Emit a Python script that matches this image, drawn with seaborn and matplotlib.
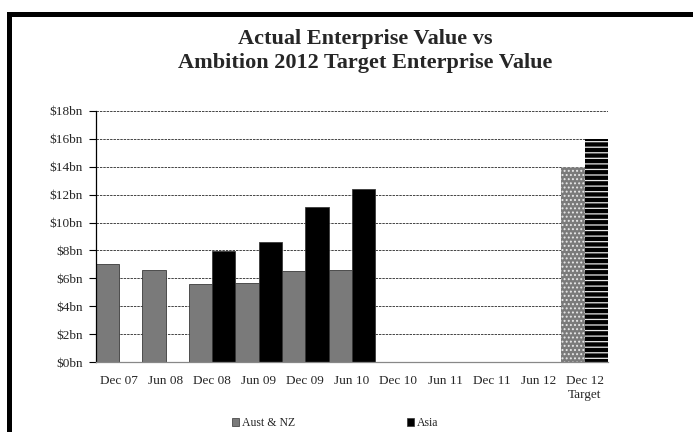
import numpy as np
import pandas as pd
import matplotlib
matplotlib.use("Agg")
import matplotlib.pyplot as plt
import seaborn as sns
from matplotlib.lines import Line2D
from matplotlib.patches import Patch

# ---- data ----
categories = ["Dec 07", "Jun 08", "Dec 08", "Jun 09", "Dec 09", "Jun 10",
              "Dec 10", "Jun 11", "Dec 11", "Jun 12", "Dec 12\nTarget"]
aust_nz = [7.03, 6.63, 5.62, 5.69, 6.51, 6.63, np.nan, np.nan, np.nan, np.nan, 14.0]
asia = [np.nan, np.nan, 7.99, 8.61, 11.12, 12.39, np.nan, np.nan, np.nan, np.nan, 16.0]
series = ["Aust & NZ", "Asia"]
colors = ["#7a7a7a", "#000000"]
target_category = "Dec 12\nTarget"
y_ticks = list(range(0, 19, 2))
y_labels = [f"${v}bn" for v in y_ticks]
title = "Actual Enterprise Value vs\nAmbition 2012 Target Enterprise Value"

rows = []
for cat, a, b in zip(categories, aust_nz, asia):
    rows.append({"period": cat, "series": series[0], "value": a})
    rows.append({"period": cat, "series": series[1], "value": b})
df = pd.DataFrame(rows).dropna()

sns.set_style("white")
plt.rcParams["font.family"] = ["Liberation Serif", "DejaVu Serif"]
plt.rcParams["hatch.linewidth"] = 0.9

fig = plt.figure(figsize=(6.93, 4.32), dpi=100)
ax = fig.add_axes([95.7 / 693, 1 - 362 / 432, (608 - 95.7) / 693, (362 - 111) / 432])

sns.barplot(data=df, x="period", y="value", hue="series", order=categories,
            hue_order=series, palette=colors, width=1.0, dodge=True,
            errorbar=None, saturation=1, edgecolor="#3a3a3a", linewidth=0.6,
            legend=False, ax=ax)

# hatch the target bars
tgt_idx = categories.index(target_category)
for p in ax.patches:
    cx = p.get_x() + p.get_width() / 2
    if cx > tgt_idx - 0.5:
        fc = p.get_facecolor()
        p.set_edgecolor("#e8e8e8")
        p.set_linewidth(0)
        if fc[0] > 0.2:
            p.set_hatch("....")
        else:
            p.set_hatch("---")

ax.set_xlim(-0.5, len(categories) - 0.5)
ax.set_ylim(0, 18)
ax.set_yticks(y_ticks)
ax.set_yticklabels(y_labels, fontsize=9.5)
ax.set_xticks(range(len(categories)))
ax.set_xticklabels(categories, fontsize=9.5, linespacing=1.3)
ax.set_xticks(np.arange(-0.5, len(categories), 1.0), minor=True)
ax.tick_params(axis="x", which="major", length=0, pad=9)
ax.tick_params(axis="x", which="minor", length=5, width=0.8, color="#777777", direction="out")
ax.tick_params(axis="y", which="major", length=5, width=0.8, color="black", direction="out", pad=4, left=True)
ax.set_xlabel("")
ax.set_ylabel("")
ax.yaxis.grid(True, linestyle=(0, (2.5, 1)), color="#444444", linewidth=0.7)
ax.xaxis.grid(False)
ax.set_axisbelow(True)
for s in ["top", "right"]:
    ax.spines[s].set_visible(False)
ax.spines["left"].set_color("black")
ax.spines["left"].set_linewidth(0.9)
ax.spines["bottom"].set_color("#888888")
ax.spines["bottom"].set_linewidth(0.9)

fig.text(365 / 693, 1 - 51 / 432, title, ha="center", va="center",
         fontsize=16, fontweight="bold", linespacing=1.3)

handles = [Patch(facecolor=c, edgecolor="#333333", linewidth=0.5, label=s)
           for s, c in zip(series, colors)]
fig.legend(handles=handles, loc="center", bbox_to_anchor=(335 / 693, 1 - 423 / 432),
           ncol=2, frameon=False, fontsize=8.5, handlelength=0.6, handleheight=0.6,
           handletextpad=0.25, columnspacing=9.5, borderaxespad=0)

# outer black frame (top and left edges)
lw_pt = 5 * 72 / 100
fig.add_artist(Line2D([8.5 / 693, 1.0], [1 - 13.5 / 432, 1 - 13.5 / 432],
                      transform=fig.transFigure, color="black", linewidth=lw_pt,
                      solid_capstyle="projecting"))
fig.add_artist(Line2D([8.5 / 693, 8.5 / 693], [0.0, 1 - 13.5 / 432],
                      transform=fig.transFigure, color="black", linewidth=lw_pt,
                      solid_capstyle="projecting"))

fig.savefig("out.png", dpi=100)
